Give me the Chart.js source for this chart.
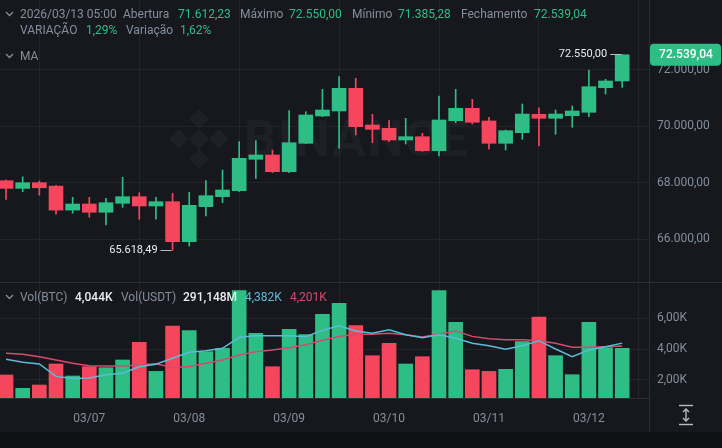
<!DOCTYPE html>
<html>
<head>
<meta charset="utf-8">
<script src="https://cdn.jsdelivr.net/npm/chart.js@4.4.1/dist/chart.umd.min.js"></script>
<style>
  body { margin: 0; width: 722px; height: 448px; overflow: hidden; position: relative; background: #17181d; font-family: Roboto, "Noto Sans", sans-serif; font-size: 12px; }
  canvas { position: absolute; left: 0; z-index: 1; }
  .t { position: absolute; line-height: 16px; white-space: nowrap; z-index: 2; }
  .g { color: #848e9c; }
  .v { color: #2ebd85; }
  .w { color: #eaecef; font-weight: 500; }
  .line { position: absolute; background: #2b2e35; z-index: 3; }
  .chev { position: absolute; z-index: 2; }
  #wm { position: absolute; left: 168px; top: 108px; z-index: 0; display: flex; align-items: center; gap: 14px; color: #1e2025; font: bold 50px Roboto, sans-serif; letter-spacing: 2px; }
</style>
</head>
<body>
<div id="wm">
  <svg width="62" height="62" viewBox="0 0 62 62"><g fill="#1e2025">
    <rect x="24" y="4" width="14" height="14" transform="rotate(45 31 11)"/>
    <rect x="24" y="44" width="14" height="14" transform="rotate(45 31 51)"/>
    <rect x="4" y="24" width="14" height="14" transform="rotate(45 11 31)"/>
    <rect x="44" y="24" width="14" height="14" transform="rotate(45 51 31)"/>
    <rect x="24" y="24" width="14" height="14" transform="rotate(45 31 31)"/>
  </g></svg>
  <span>BINANCE</span>
</div>

<canvas id="price" width="722" height="282" style="top:0"></canvas>
<canvas id="vol" width="722" height="149" style="top:283px"></canvas>

<div class="line" style="left:0;top:282px;width:722px;height:1px"></div>
<div class="line" style="left:649px;top:398px;width:1px;height:34px"></div>
<div style="position:absolute;left:0;top:432px;width:722px;height:16px;background:#101114;z-index:3"></div>

<svg class="chev" style="left:5px;top:10px" width="9" height="8"><polyline points="1,2 4.5,5.5 8,2" fill="none" stroke="#848e9c" stroke-width="1.3"/></svg>
<div class="t g" style="left:20px;top:6px">2026/03/13 05:00</div>
<div class="t g" style="left:123px;top:6px">Abertura</div>
<div class="t v" style="left:178px;top:6px">71.612,23</div>
<div class="t g" style="left:240px;top:6px">Máximo</div>
<div class="t v" style="left:289px;top:6px">72.550,00</div>
<div class="t g" style="left:352px;top:6px">Mínimo</div>
<div class="t v" style="left:398px;top:6px">71.385,28</div>
<div class="t g" style="left:461px;top:6px">Fechamento</div>
<div class="t v" style="left:534px;top:6px">72.539,04</div>
<div class="t g" style="left:20px;top:22px">VARIAÇÃO</div>
<div class="t v" style="left:86px;top:22px">1,29%</div>
<div class="t g" style="left:126px;top:22px">Variação</div>
<div class="t v" style="left:180px;top:22px">1,62%</div>
<svg class="chev" style="left:5px;top:52px" width="9" height="8"><polyline points="1,2 4.5,5.5 8,2" fill="none" stroke="#848e9c" stroke-width="1.3"/></svg>
<div class="t g" style="left:20px;top:48px">MA</div>

<svg class="chev" style="left:5px;top:293px" width="9" height="8"><polyline points="1,2 4.5,5.5 8,2" fill="none" stroke="#848e9c" stroke-width="1.3"/></svg>
<div class="t g" style="left:20px;top:289px">Vol(BTC)</div>
<div class="t w" style="left:75px;top:289px">4,044K</div>
<div class="t g" style="left:121px;top:289px">Vol(USDT)</div>
<div class="t w" style="left:183px;top:289px">291,148M</div>
<div class="t" style="left:245px;top:289px;color:#5bbcd8">4,382K</div>
<div class="t" style="left:290px;top:289px;color:#d64a6e">4,201K</div>

<svg style="position:absolute;left:678px;top:404px;z-index:4" width="16" height="22" viewBox="0 0 16 22">
  <g stroke="#b7bdc6" stroke-width="1.4" fill="none">
    <line x1="1" y1="1.5" x2="15" y2="1.5"/><line x1="1" y1="20.5" x2="15" y2="20.5"/>
    <line x1="8" y1="5" x2="8" y2="17"/>
    <polyline points="5,8 8,5 11,8"/><polyline points="5,14 8,17 11,14"/>
  </g>
</svg>

<script>
// 4h candles, 03/06 04:00 .. 03/12 08:00 (index 0..37)
const opens  = [68080, 67810, 68010, 67890, 67040, 67256, 66963, 67281, 67515, 67186,
                67338, 65922, 67161, 67515, 67727, 68839, 68991, 68400, 69405, 70372,
                70549, 71352, 70053, 69936, 69522, 69639, 69143, 70205, 70644, 70195,
                69405, 69780, 70432, 70290, 70382, 70503, 71373, 71612.23];
const highs  = [68110, 68220, 68070, 67920, 67494, 67494, 67458, 68202, 67656, 67494,
                67635, 67671, 68081, 68460, 69462, 69497, 69168, 70559, 70524, 71317,
                71763, 71706, 70432, 70205, 70290, 69759, 71080, 71317, 70963, 70326,
                69876, 70796, 70665, 70584, 70726, 72000, 71671, 72550];
const lows   = [67420, 67690, 67570, 66900, 66927, 66786, 66513, 67140, 66715, 66715,
                65618.49, 65770, 66832, 67302, 67700, 68166, 68365, 68365, 69390, 70350,
                69228, 69699, 69426, 69462, 69380, 69120, 68956, 70134, 70088, 69193,
                69168, 69547, 69310, 69724, 69972, 70347, 71150, 71385.28];
const closes = [67810, 68010, 67830, 67040, 67256, 66963, 67302, 67515, 67186, 67338,
                65922, 67210, 67550, 67752, 68874, 68991, 68400, 69426, 70407, 70584,
                71352, 69993, 69901, 69522, 69639, 69143, 70230, 70644, 70149, 69405,
                69851, 70442, 70290, 70442, 70549, 71409, 71611, 72539.04];
// volume in K
const volumes = [2310, 1445, 1660, 3025, 2245, 2850, 2785, 3285, 4435, 2545,
                 5495, 5190, 3825, 4045, 7790, 5020, 2850, 5280, 4930, 6255,
                 6970, 5515, 3565, 4370, 3025, 3500, 7790, 5735, 2655, 2545,
                 2680, 4475, 6080, 3565, 2330, 5735, 4085, 4044];
const volMaFast = [3330, 3135, 3025, 2220, 2090, 2115, 2330, 2420, 2850, 3005,
                   3395, 3785, 3890, 4045, 4760, 4865, 4865, 4865, 4800, 5210,
                   5515, 5170, 5020, 5255, 4930, 4735, 4930, 4695, 4370, 4215,
                   3980, 4215, 4540, 4000, 3500, 3935, 4150, 4382];
const volMaSlow = [3720, 3655, 3500, 3285, 3070, 2915, 2895, 2895, 2980, 3045,
                   2805, 2870, 3070, 3285, 3610, 3825, 3935, 4085, 4280, 4570,
                   4820, 4955, 4955, 5020, 4930, 4775, 4955, 5170, 4820, 4670,
                   4605, 4605, 4540, 4370, 4110, 4110, 4150, 4201];
const dayTicks  = [5, 11, 17, 23, 29, 35];
const dayLabels = ['03/07', '03/08', '03/09', '03/10', '03/11', '03/12'];
const priceTicks = [66000, 68000, 70000, 72000];
const volTicks = [2000, 4000, 6000];

const GREEN = '#2ebd85', RED = '#f6465d';
const GRID = '#222429', SEP = '#2b2e35', LABEL = '#848e9c';
const X_MIN = -0.363, X_MAX = 38.61;

function fmtPrice(v) {
    const [a, b] = v.toFixed(2).split('.');
    return a.replace(/\B(?=(\d{3})+(?!\d))/g, '.') + ',' + b;
}

const colors = opens.map((o, i) => closes[i] >= o ? GREEN : RED);

const markers = {
    id: 'markers',
    afterDatasetsDraw(chart) {
        const { ctx, scales: { x, y } } = chart;
        const hi = highs.indexOf(Math.max(...highs));
        const lo = lows.indexOf(Math.min(...lows));
        ctx.save();
        ctx.font = '11px Roboto';
        ctx.fillStyle = '#eaecef';
        ctx.strokeStyle = '#b7bdc6';
        ctx.lineWidth = 1;
        ctx.textAlign = 'right';
        ctx.textBaseline = 'middle';
        [[hi, highs[hi]], [lo, lows[lo]]].forEach(([i, v]) => {
            const px = x.getPixelForValue(i), py = Math.round(y.getPixelForValue(v)) + 0.5;
            ctx.beginPath();
            ctx.moveTo(px - 12, py);
            ctx.lineTo(px - 1, py);
            ctx.stroke();
            ctx.fillText(fmtPrice(v), px - 15, py);
        });
        ctx.restore();
    },
    afterDraw(chart) {
        const { ctx, scales: { y }, chartArea } = chart;
        const last = closes[closes.length - 1];
        const py = y.getPixelForValue(last);
        ctx.save();
        ctx.fillStyle = GREEN;
        ctx.beginPath();
        ctx.roundRect(chartArea.right + 1, py - 11, 71, 22, 4);
        ctx.fill();
        ctx.fillStyle = '#ffffff';
        ctx.font = '500 12px Roboto';
        ctx.textAlign = 'center';
        ctx.textBaseline = 'middle';
        ctx.fillText(fmtPrice(last), chartArea.right + 37, py + 0.5);
        ctx.restore();
    }
};

const xScale = (showLabels) => ({
    type: 'linear', min: X_MIN, max: X_MAX, offset: false,
    ticks: { display: showLabels, color: LABEL, font: { family: 'Roboto', size: 12 }, padding: 14,
             callback: (v, i) => dayLabels[i] },
    grid: { color: GRID, drawTicks: false },
    border: { display: showLabels, color: SEP },
    afterBuildTicks: s => { s.ticks = dayTicks.map(v => ({ value: v })); },
    afterFit: s => { s.height = showLabels ? 34 : 0; s.paddingLeft = 0; s.paddingRight = 0; }
});

new Chart(document.getElementById('price'), {
    type: 'bar',
    data: {
        datasets: [
            { data: opens.map((o, i) => ({ x: i, y: [o, closes[i]] })), backgroundColor: colors,
              barThickness: 14, grouped: false, minBarLength: 1, order: 1 },
            { data: lows.map((l, i) => ({ x: i, y: [l, highs[i]] })), backgroundColor: colors,
              barThickness: 1, grouped: false, order: 2 }
        ]
    },
    options: {
        responsive: false, animation: false, events: [],
        layout: { padding: 0 },
        plugins: { legend: { display: false }, tooltip: { enabled: false } },
        scales: {
            x: xScale(false),
            y: {
                position: 'right', min: 64495, max: 74478,
                ticks: { color: LABEL, font: { family: 'Roboto', size: 12 }, padding: 8, callback: v => fmtPrice(v) },
                grid: { color: GRID, drawTicks: false },
                border: { color: SEP },
                afterBuildTicks: s => { s.ticks = priceTicks.map(v => ({ value: v })); },
                afterFit: s => { s.width = 73; s.paddingTop = 0; s.paddingBottom = 0; }
            }
        }
    },
    plugins: [markers]
});

new Chart(document.getElementById('vol'), {
    type: 'bar',
    data: {
        datasets: [
            { type: 'line', data: volMaFast.map((v, i) => ({ x: i, y: v })), borderColor: '#5bbcd8',
              borderWidth: 1.5, pointRadius: 0, order: 0 },
            { type: 'line', data: volMaSlow.map((v, i) => ({ x: i, y: v })), borderColor: '#d64a6e',
              borderWidth: 1.5, pointRadius: 0, order: 0 },
            { data: volumes.map((v, i) => ({ x: i, y: v })), backgroundColor: colors,
              barThickness: 14, grouped: false, order: 1 }
        ]
    },
    options: {
        responsive: false, animation: false, events: [],
        layout: { padding: 0 },
        plugins: { legend: { display: false }, tooltip: { enabled: false } },
        scales: {
            x: xScale(true),
            y: {
                position: 'right', min: 815, max: 8290,
                ticks: { color: LABEL, font: { family: 'Roboto', size: 12 }, padding: 8,
                         callback: v => (v / 1000).toFixed(2).replace('.', ',') + 'K' },
                grid: { color: GRID, drawTicks: false },
                border: { color: SEP },
                afterBuildTicks: s => { s.ticks = volTicks.map(v => ({ value: v })); },
                afterFit: s => { s.width = 73; s.paddingTop = 0; s.paddingBottom = 0; }
            }
        }
    }
});
</script>
</body>
</html>
